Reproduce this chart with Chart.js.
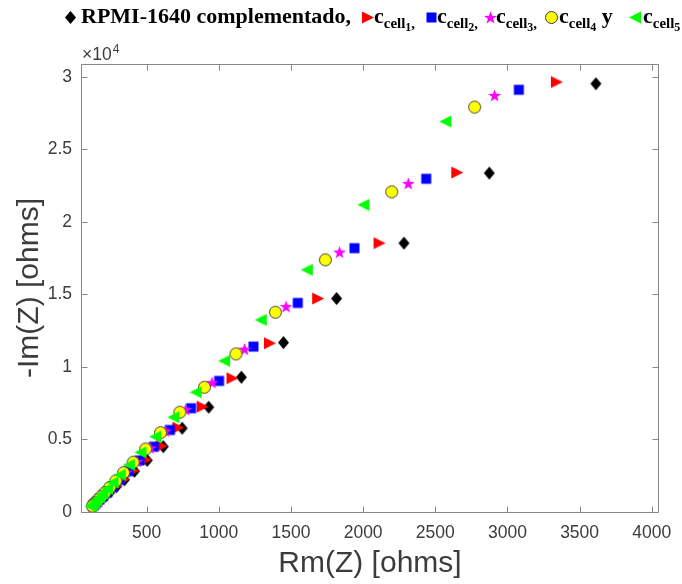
<!DOCTYPE html>
<html>
<head>
<meta charset="utf-8">
<title>Nyquist - RPMI-1640</title>
<script src="https://cdn.jsdelivr.net/npm/chart.js@4.4.1/dist/chart.umd.min.js"></script>
<style>
  html, body { margin: 0; padding: 0; background: #fff; }
  #wrap { position: relative; width: 682px; height: 584px; overflow: hidden; }
  #chart { position: absolute; left: 0; top: 0; }
  #legend { position: absolute; left: 0; top: 0; width: 682px; height: 40px;
            font: bold 22px "Liberation Serif", "DejaVu Serif", serif; line-height: 1; color: #000; }
  #legend .txt { position: absolute; top: 5px; white-space: nowrap; }
  #legend canvas { position: absolute; }
  #legend sub { font-size: 0.68em; vertical-align: -0.32em; line-height: 1; }
  #legend sub sub { font-size: 0.8em; vertical-align: -0.25em; }
</style>
</head>
<body>
<div id="wrap">
  <canvas id="chart" width="682" height="584"></canvas>
  <div id="legend"></div>
</div>
<script>
// Re(Z) / -Im(Z) in ohms, one pair of arrays per medium
const rpmiRe = [3613, 2874, 2283, 1816, 1448, 1156, 930, 746, 615, 504, 416, 346, 291, 248, 214, 187, 165, 149, 135];
const rpmiIm = [29519, 23360, 18532, 14712, 11677, 9290, 7221, 5773, 4504, 3560, 2815, 2224, 1755, 1387, 1097, 867, 683, 541, 428];

const cell1Re = [3339, 2649, 2110, 1685, 1351, 1091, 884, 716, 601, 493, 407, 339, 286, 244, 210, 184, 163, 147, 134];
const cell1Im = [29636, 23401, 18532, 14712, 11635, 9222, 7262, 5815, 4552, 3596, 2841, 2244, 1773, 1401, 1107, 874, 691, 546, 432];

const cell2Re = [3079, 2437, 1940, 1547, 1240, 1002, 808, 661, 550, 452, 375, 314, 266, 228, 198, 174, 156, 141, 129];
const cell2Im = [29105, 22967, 18187, 14414, 11402, 9035, 7152, 5655, 4504, 3558, 2810, 2221, 1755, 1386, 1095, 865, 683, 540, 426];

const cell3Re = [2911, 2313, 1837, 1466, 1178, 953, 770, 630, 525, 433, 360, 302, 256, 220, 192, 170, 152, 138, 127];
const cell3Im = [28712, 22643, 17911, 14159, 11221, 8918, 7059, 5590, 4417, 3489, 2754, 2178, 1719, 1357, 1073, 847, 670, 529, 418];

const cell4Re = [2773, 2198, 1738, 1392, 1119, 900, 730, 596, 493, 407, 340, 286, 244, 211, 184, 163, 147, 134, 124];
const cell4Im = [27911, 22070, 17380, 13772, 10897, 8601, 6877, 5469, 4345, 3433, 2711, 2142, 1692, 1337, 1056, 834, 659, 520, 411];

const cell5Re = [2573, 2005, 1613, 1294, 1040, 843, 688, 562, 460, 380, 317, 267, 228, 197, 172, 153, 138, 126, 116];
const cell5Im = [26919, 21173, 16691, 13242, 10414, 8256, 6532, 5193, 4111, 3249, 2566, 2027, 1602, 1265, 1000, 790, 623, 493, 390];

// axis ticks
const xTicks = [500, 1000, 1500, 2000, 2500, 3000, 3500, 4000];
const yTicks = [0, 5000, 10000, 15000, 20000, 25000, 30000];
const yTickLabels = ['0', '0.5', '1', '1.5', '2', '2.5', '3'];

// marker images (MATLAB-like symbols)
function makeMarker(kind, fill, stroke) {
  const c = document.createElement('canvas');
  c.width = 15; c.height = 15;
  const g = c.getContext('2d');
  g.fillStyle = fill;
  g.beginPath();
  if (kind === 'diamond') {
    g.moveTo(7.5, 1); g.lineTo(13, 7.5); g.lineTo(7.5, 14); g.lineTo(2, 7.5);
  } else if (kind === 'triR') {
    g.moveTo(2, 1.5); g.lineTo(14, 7.5); g.lineTo(2, 13.5);
  } else if (kind === 'triL') {
    g.moveTo(13, 1.5); g.lineTo(1, 7.5); g.lineTo(13, 13.5);
  } else if (kind === 'square') {
    g.rect(2.5, 2.5, 10, 10);
  } else if (kind === 'star') {
    for (let i = 0; i < 10; i++) {
      const r = i % 2 === 0 ? 6.8 : 2.7;
      const a = -Math.PI / 2 + i * Math.PI / 5;
      const px = 7.5 + r * Math.cos(a), py = 8 + r * Math.sin(a);
      if (i === 0) g.moveTo(px, py); else g.lineTo(px, py);
    }
  } else if (kind === 'circle') {
    g.arc(7.5, 7.5, 6, 0, Math.PI * 2);
  }
  g.closePath();
  g.fill();
  if (stroke) {
    g.strokeStyle = stroke;
    g.lineWidth = 1;
    g.stroke();
  }
  return c;
}

const series = [
  { label: 'RPMI-1640 complementado', re: rpmiRe, im: rpmiIm, marker: makeMarker('diamond', '#000000') },
  { label: 'c_cell1', re: cell1Re, im: cell1Im, marker: makeMarker('triR', '#ff0000') },
  { label: 'c_cell2', re: cell2Re, im: cell2Im, marker: makeMarker('square', '#0000ff') },
  { label: 'c_cell3', re: cell3Re, im: cell3Im, marker: makeMarker('star', '#ff00ff') },
  { label: 'c_cell4', re: cell4Re, im: cell4Im, marker: makeMarker('circle', '#ffff00', '#3c3c3c') },
  { label: 'c_cell5', re: cell5Re, im: cell5Im, marker: makeMarker('triL', '#00ff00') }
];

// box, inward ticks on all sides and the x10^4 multiplier
const axesBox = {
  id: 'axesBox',
  beforeDatasetsDraw(chart) {
    const { ctx, chartArea: a, scales: { x, y } } = chart;
    const L = a.left + 0.5, R = a.right - 0.5, T = a.top + 0.5, B = a.bottom + 0.5;
    ctx.save();
    ctx.strokeStyle = '#868686';
    ctx.lineWidth = 1;
    ctx.beginPath();
    ctx.moveTo(L, T); ctx.lineTo(R, T); ctx.lineTo(R, B); ctx.lineTo(L, B); ctx.closePath();
    xTicks.forEach(v => {
      const p = Math.round(x.getPixelForValue(v)) + 0.5;
      ctx.moveTo(p, B); ctx.lineTo(p, B - 6);
      ctx.moveTo(p, T); ctx.lineTo(p, T + 6);
    });
    yTicks.forEach(v => {
      const p = Math.round(y.getPixelForValue(v)) + 0.5;
      ctx.moveTo(L, p); ctx.lineTo(L + 6, p);
      ctx.moveTo(R, p); ctx.lineTo(R - 6, p);
    });
    ctx.stroke();

    ctx.fillStyle = '#3c3c3c';
    ctx.textBaseline = 'alphabetic';
    ctx.textAlign = 'left';
    ctx.font = '17.5px "Liberation Sans", Arial, sans-serif';
    ctx.fillText('\u00d710', a.left + 1, a.top - 4);
    const w = ctx.measureText('\u00d710').width;
    ctx.font = '12px "Liberation Sans", Arial, sans-serif';
    ctx.fillText('4', a.left + 1 + w + 1, a.top - 11);
    ctx.restore();
  }
};

const tickFont = { family: '"Liberation Sans", Arial, sans-serif', size: 17.5 };
const titleFont = { family: '"Liberation Sans", Arial, sans-serif', size: 30 };

new Chart(document.getElementById('chart'), {
  type: 'scatter',
  data: {
    datasets: series.map((s, i) => ({
      label: s.label,
      data: s.re.map((v, k) => ({ x: v, y: s.im[k] })),
      pointStyle: s.marker,
      pointRadius: 6,
      pointHoverRadius: 6,
      order: series.length - i
    }))
  },
  options: {
    responsive: false,
    devicePixelRatio: 1,
    animation: false,
    events: [],
    layout: { autoPadding: false, padding: { top: 64, right: 22, bottom: 0, left: 0 } },
    plugins: { legend: { display: false }, tooltip: { enabled: false } },
    scales: {
      x: {
        type: 'linear',
        min: 45,
        max: 4050,
        grid: { display: false, drawTicks: false },
        border: { display: false },
        afterBuildTicks: (axis) => { axis.ticks = xTicks.map(v => ({ value: v })); },
        afterFit: (axis) => { axis.height = 72; },
        ticks: { autoSkip: false, maxRotation: 0, padding: 10.5, color: '#3c3c3c', font: tickFont,
                 callback: (v) => String(v) },
        title: { display: true, text: 'Rm(Z) [ohms]', color: '#3c3c3c', font: titleFont,
                 padding: { top: 0, bottom: 2 } }
      },
      y: {
        type: 'linear',
        min: 0,
        max: 30880,
        grid: { display: false, drawTicks: false },
        border: { display: false },
        afterBuildTicks: (axis) => { axis.ticks = yTicks.map(v => ({ value: v })); },
        afterFit: (axis) => { axis.width = 81; },
        ticks: { autoSkip: false, padding: 9, color: '#3c3c3c', font: tickFont,
                 callback: (v) => yTickLabels[yTicks.indexOf(v)] },
        title: { display: true, text: '-Im(Z) [ohms]', color: '#3c3c3c', font: titleFont,
                 padding: { top: 12, bottom: 0 } }
      }
    }
  },
  plugins: [axesBox]
});

// legend line above the axes (rich text with subscripts)
const legendItems = [
  { markerX: 70, textX: 81, html: 'RPMI-1640 complementado,' },
  { markerX: 367, textX: 374, html: 'c<sub>cell<sub>1</sub>,</sub>' },
  { markerX: 431, textX: 437, html: 'c<sub>cell<sub>2</sub>,</sub>' },
  { markerX: 490, textX: 496, html: 'c<sub>cell<sub>3</sub>,</sub>' },
  { markerX: 551, textX: 559, html: 'c<sub>cell<sub>4</sub></sub> y' },
  { markerX: 635.5, textX: 643, html: 'c<sub>cell<sub>5</sub></sub>' }
];
const legend = document.getElementById('legend');
legendItems.forEach((it, i) => {
  const m = makeMarker(
    ['diamond', 'triR', 'square', 'star', 'circle', 'triL'][i],
    ['#000000', '#ff0000', '#0000ff', '#ff00ff', '#ffff00', '#00ff00'][i],
    i === 4 ? '#3c3c3c' : null
  );
  m.style.left = (it.markerX - 7.5) + 'px';
  m.style.top = '9.5px';
  legend.appendChild(m);
  const t = document.createElement('span');
  t.className = 'txt';
  t.style.left = it.textX + 'px';
  t.innerHTML = it.html;
  legend.appendChild(t);
});
</script>
</body>
</html>
